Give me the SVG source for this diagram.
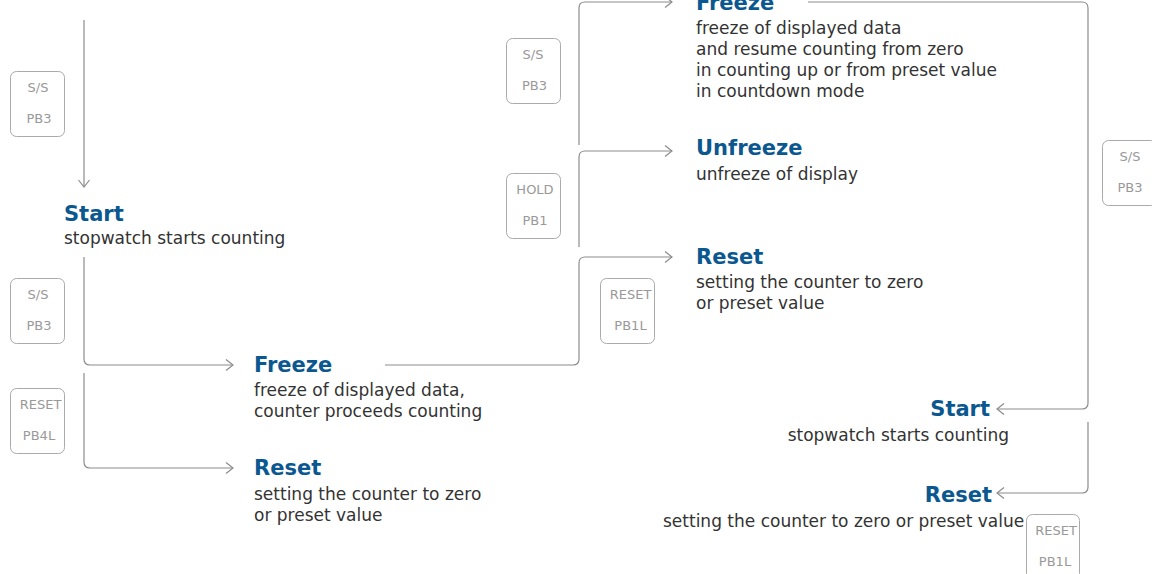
<svg xmlns="http://www.w3.org/2000/svg" width="1152" height="574" viewBox="0 0 1152 574">
<style>
.t{font-family:"DejaVu Sans",sans-serif;font-weight:bold;font-size:21px;fill:#0b5890}
.b{font-family:"DejaVu Sans",sans-serif;font-size:17px;fill:#333}
.k{fill:#fff;stroke:#aaa;stroke-width:1}
.kt{font-family:"DejaVu Sans",sans-serif;font-size:13px;fill:#999;text-anchor:middle}
.c{fill:none;stroke:#8c8c8c;stroke-width:1.2}
</style>
<defs>
<marker id="ar" markerUnits="userSpaceOnUse" markerWidth="12" markerHeight="14" refX="8" refY="6" orient="auto" overflow="visible">
<path d="M1,0.5 L8,6 L1,11.5" fill="none" stroke="#8c8c8c" stroke-width="1.2"/>
</marker>
</defs>
<rect width="1152" height="574" fill="#fff"/>
<g id="connectors">
<path class="c" d="M84 20 V187" marker-end="url(#ar)"/>
<path class="c" d="M84 257 V359 Q84 365 90 365 H233" marker-end="url(#ar)"/>
<path class="c" d="M84 373 V462 Q84 468 90 468 H233" marker-end="url(#ar)"/>
<path class="c" d="M385 365 H573 Q579 365 579 359 V263 Q579 257 585 257 H672" marker-end="url(#ar)"/>
<path class="c" d="M579 247 V157 Q579 151 585 151 H672" marker-end="url(#ar)"/>
<path class="c" d="M579 145 V8 Q579 2 585 2 H672" marker-end="url(#ar)"/>
<path class="c" d="M808 2 H1082 Q1088 2 1088 8 V403 Q1088 409 1082 409 H997" marker-end="url(#ar)"/>
<path class="c" d="M1088 422 V487 Q1088 493 1082 493 H997" marker-end="url(#ar)"/>
</g>
<g id="btn-ss-1"><rect class="k" x="10.5" y="71.5" width="54" height="65" rx="6"/><text class="kt" x="38" y="92">S/S</text><text class="kt" x="39" y="123">PB3</text></g>
<g id="btn-ss-2"><rect class="k" x="10.5" y="278.5" width="54" height="65" rx="6"/><text class="kt" x="38" y="299">S/S</text><text class="kt" x="39" y="330">PB3</text></g>
<g id="btn-reset-1"><rect class="k" x="10.5" y="388.5" width="54" height="65" rx="6"/><text class="kt" x="40.5" y="409">RESET</text><text class="kt" x="39" y="440">PB4L</text></g>
<g id="btn-ss-3"><rect class="k" x="506.5" y="38.5" width="54" height="65" rx="6"/><text class="kt" x="533" y="59">S/S</text><text class="kt" x="534.5" y="90">PB3</text></g>
<g id="btn-hold"><rect class="k" x="506.5" y="173.5" width="54" height="65" rx="6"/><text class="kt" x="535" y="194">HOLD</text><text class="kt" x="535" y="225">PB1</text></g>
<g id="btn-reset-2"><rect class="k" x="600.5" y="278.5" width="54" height="65" rx="6"/><text class="kt" x="630.5" y="299">RESET</text><text class="kt" x="630.5" y="330">PB1L</text></g>
<g id="btn-ss-4"><rect class="k" x="1102.5" y="140.5" width="54" height="65" rx="6"/><text class="kt" x="1130" y="161">S/S</text><text class="kt" x="1130" y="192">PB3</text></g>
<g id="btn-reset-3"><rect class="k" x="1026.5" y="514.5" width="53" height="65" rx="6"/><text class="kt" x="1056" y="535">RESET</text><text class="kt" x="1055" y="566">PB1L</text></g>
<g id="start-1"><text class="t" x="64" y="221">Start</text><text class="b" x="64" y="244">stopwatch starts counting</text></g>
<g id="freeze-1"><text class="t" x="254" y="372">Freeze</text><text class="b" x="254" y="396">freeze of displayed data,</text><text class="b" x="254" y="417">counter proceeds counting</text></g>
<g id="reset-1"><text class="t" x="254" y="475">Reset</text><text class="b" x="254" y="500">setting the counter to zero</text><text class="b" x="254" y="521">or preset value</text></g>
<g id="freeze-2"><text class="t" x="696" y="10">Freeze</text><text class="b" x="696" y="34">freeze of displayed data</text><text class="b" x="696" y="55">and resume counting from zero</text><text class="b" x="696" y="76">in counting up or from preset value</text><text class="b" x="696" y="97">in countdown mode</text></g>
<g id="unfreeze"><text class="t" x="696" y="155">Unfreeze</text><text class="b" x="696" y="180">unfreeze of display</text></g>
<g id="reset-2"><text class="t" x="696" y="264">Reset</text><text class="b" x="696" y="288">setting the counter to zero</text><text class="b" x="696" y="309">or preset value</text></g>
<g id="start-2"><text class="t" x="990" y="416" text-anchor="end">Start</text><text class="b" x="1009" y="441" text-anchor="end">stopwatch starts counting</text></g>
<g id="reset-3"><text class="t" x="992" y="502" text-anchor="end">Reset</text><text class="b" x="663" y="527">setting the counter to zero or preset value</text></g>
</svg>
